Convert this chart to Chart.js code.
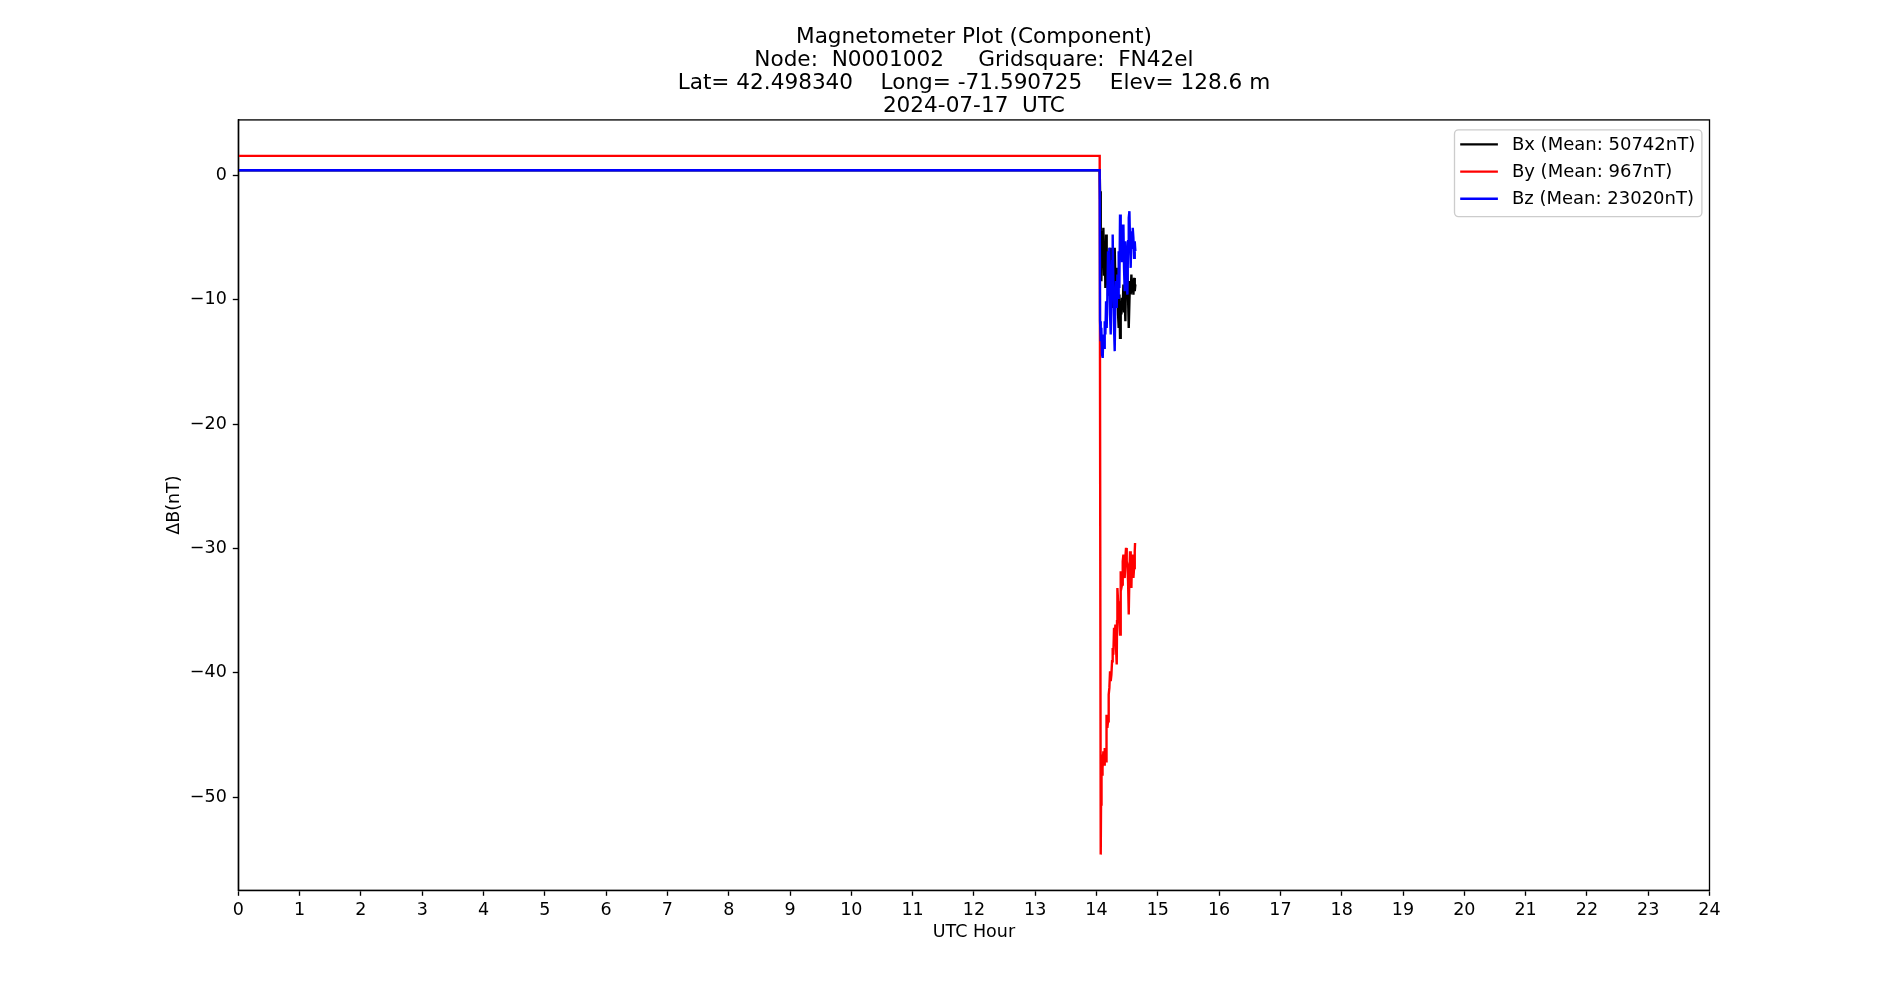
<!DOCTYPE html>
<html><head><meta charset="utf-8">
<script src="https://cdn.jsdelivr.net/npm/chart.js@4.4.1/dist/chart.umd.min.js"></script>
<style>html,body{margin:0;padding:0;background:#fff;overflow:hidden}</style>
</head><body>
<canvas id="c" width="1900" height="1000" style="width:1900px;height:1000px;display:block"></canvas>
<script>
const titleLines = [
  'Magnetometer Plot (Component)',
  'Node:  N0001002     Gridsquare:  FN42el',
  'Lat= 42.498340    Long= -71.590725    Elev= 128.6 m',
  '2024-07-17  UTC'
];
const seriesLabels = ['Bx (Mean: 50742nT)', 'By (Mean: 967nT)', 'Bz (Mean: 23020nT)'];
const seriesColors = ['#000000', '#ff0000', '#0000ff'];
const xTitle = 'UTC Hour';
const yTitle = '\u0394B(nT)';
const xTicks = [0,1,2,3,4,5,6,7,8,9,10,11,12,13,14,15,16,17,18,19,20,21,22,23,24];
const yTicks = [-50,-40,-30,-20,-10,0];

const bzHours = [0, 14.052, 14.058, 14.069, 14.079, 14.090, 14.101, 14.112, 14.123, 14.134, 14.145, 14.156, 14.166, 14.177, 14.188, 14.199, 14.210, 14.221, 14.232, 14.243, 14.254, 14.264, 14.275, 14.286, 14.297, 14.308, 14.319, 14.330, 14.341, 14.352, 14.362, 14.373, 14.384, 14.395, 14.406, 14.417, 14.428, 14.439, 14.449, 14.460, 14.471, 14.482, 14.493, 14.504, 14.515, 14.526, 14.537, 14.547, 14.558, 14.569, 14.580, 14.591, 14.602, 14.613, 14.624, 14.634];
const bxHours = bzHours;
const bxValues = [0.42, 0.42, -1.26, -5.29, -8.50, -4.48, -6.09, -4.21, -7.97, -5.29, -9.04, -4.75, -8.77, -6.09, -9.58, -6.36, -8.50, -5.82, -9.84, -6.89, -9.04, -10.65, -6.36, -10.11, -5.82, -8.77, -7.43, -9.84, -8.50, -11.18, -12.26, -9.58, -13.06, -10.11, -11.18, -9.84, -10.65, -8.77, -10.92, -9.58, -11.72, -7.97, -6.09, -7.97, -9.84, -12.26, -10.11, -8.50, -9.58, -7.97, -9.31, -8.50, -9.58, -8.24, -9.31, -8.77];
const bzValues = [0.42, 0.42, -11.72, -13.33, -12.26, -14.40, -14.67, -12.79, -13.87, -11.72, -12.79, -10.11, -12.26, -9.84, -6.09, -8.50, -5.82, -11.18, -12.79, -9.04, -6.89, -4.75, -8.50, -12.26, -14.13, -10.11, -8.50, -10.65, -7.97, -9.84, -6.09, -9.04, -3.14, -5.29, -3.95, -6.89, -4.75, -3.95, -7.43, -9.31, -5.29, -6.36, -8.50, -9.58, -5.29, -3.41, -2.87, -5.29, -7.43, -4.48, -5.82, -4.21, -5.02, -6.63, -5.29, -6.09];
const byHours = [0, 14.052, 14.069, 14.074, 14.079, 14.085, 14.090, 14.096, 14.101, 14.112, 14.123, 14.134, 14.145, 14.156, 14.161, 14.166, 14.177, 14.188, 14.199, 14.210, 14.221, 14.232, 14.243, 14.254, 14.264, 14.275, 14.286, 14.297, 14.308, 14.319, 14.330, 14.335, 14.341, 14.352, 14.362, 14.373, 14.384, 14.395, 14.406, 14.417, 14.428, 14.439, 14.449, 14.460, 14.471, 14.482, 14.493, 14.504, 14.515, 14.526, 14.537, 14.547, 14.558, 14.569, 14.580, 14.591, 14.602, 14.613, 14.624, 14.629];
const byValues = [1.58, 1.58, -54.63, -50.61, -48.19, -47.12, -48.19, -46.58, -47.66, -46.32, -47.39, -46.05, -46.85, -47.12, -44.97, -43.37, -44.44, -43.90, -41.76, -41.22, -39.88, -40.68, -40.15, -39.08, -38.00, -38.54, -36.39, -37.47, -36.13, -38.00, -39.34, -35.86, -33.18, -34.25, -34.78, -35.86, -36.93, -31.84, -33.18, -32.91, -31.03, -30.49, -32.10, -32.37, -30.76, -29.96, -31.03, -31.30, -32.64, -35.32, -32.10, -30.23, -31.84, -33.18, -30.49, -31.03, -32.37, -31.57, -30.23, -29.56];

const FONT = 'DejaVu Sans';
function pts(xs, ys) {
  const n = Math.min(xs.length, ys.length);
  const out = [];
  for (let i = 0; i < n; i++) out.push({x: xs[i], y: ys[i]});
  return out;
}
const frame = {
  id: 'frame',
  afterDatasetsDraw(chart) {
    const {ctx, chartArea: a} = chart;
    ctx.save();
    ctx.strokeStyle = '#000';
    ctx.lineWidth = 1.33;
    ctx.strokeRect(a.left, a.top, a.right - a.left, a.bottom - a.top);
    ctx.restore();
  }
};
const boxLegend = {
  id: 'boxLegend',
  afterDraw(chart) {
    const {ctx, chartArea: a} = chart;
    const w = 247.4, h = 86.7, r = 4;
    const x0 = a.right - 7.6 - w, y0 = a.top + 10;
    ctx.save();
    ctx.beginPath();
    ctx.moveTo(x0 + r, y0);
    ctx.arcTo(x0 + w, y0, x0 + w, y0 + h, r);
    ctx.arcTo(x0 + w, y0 + h, x0, y0 + h, r);
    ctx.arcTo(x0, y0 + h, x0, y0, r);
    ctx.arcTo(x0, y0, x0 + w, y0, r);
    ctx.closePath();
    ctx.fillStyle = 'rgba(255,255,255,0.8)';
    ctx.fill();
    ctx.strokeStyle = '#cccccc';
    ctx.lineWidth = 1.33;
    ctx.stroke();
    chart.data.datasets.forEach((ds, i) => {
      const cy = y0 + 14.5 + i * 27.2;
      ctx.beginPath();
      ctx.strokeStyle = ds.borderColor;
      ctx.lineWidth = ds.borderWidth;
      ctx.moveTo(x0 + 5.7, cy);
      ctx.lineTo(x0 + 43.4, cy);
      ctx.stroke();
      ctx.fillStyle = '#000';
      ctx.font = '18px "' + FONT + '"';
      ctx.textBaseline = 'middle';
      ctx.textAlign = 'left';
      ctx.fillText(ds.label, x0 + 57.4, cy + 0.5);
    });
    ctx.restore();
  }
};
const allX = [bxHours, byHours, bzHours];
const allY = [bxValues, byValues, bzValues];
const datasets = seriesLabels.map((lab, i) => ({
  label: lab,
  data: pts(allX[i], allY[i]),
  borderColor: seriesColors[i],
  backgroundColor: seriesColors[i],
  borderWidth: 2.4,
  pointRadius: 0,
  tension: 0,
  fill: false,
  order: 3 - i
}));
const tickFont = {family: FONT, size: 17.5};
new Chart(document.getElementById('c'), {
  type: 'line',
  data: {datasets},
  options: {
    responsive: false,
    animation: false,
    devicePixelRatio: 1,
    events: [],
    layout: {padding: {left: 0, right: 190.5, top: 0, bottom: 0}},
    plugins: {
      legend: {display: false},
      tooltip: {enabled: false},
      title: {
        display: true, text: titleLines, fullSize: false, color: '#000',
        font: {family: FONT, size: 21.6, weight: 'normal', lineHeight: 1.065},
        padding: {top: 26, bottom: 1.9}
      }
    },
    scales: {
      x: {
        type: 'linear', min: 0, max: 24,
        afterBuildTicks: s => { s.ticks = xTicks.map(v => ({value: v})); },
        afterFit: s => { s.height = 109.7; s.paddingLeft = 0; s.paddingRight = 0; },
        grid: {drawOnChartArea: false, drawTicks: true, tickLength: 5.5, tickColor: '#000', tickWidth: 1.33},
        border: {display: true, color: '#000', width: 1.33},
        ticks: {color: '#000', font: tickFont, padding: 4.4, maxRotation: 0, autoSkip: false},
        title: {display: true, text: xTitle, color: '#000', font: {family: FONT, size: 17.5}, padding: {top: 0, bottom: 56.6}}
      },
      y: {
        type: 'linear', min: -57.5, max: 4.47,
        afterBuildTicks: s => { s.ticks = yTicks.map(v => ({value: v})); },
        afterFit: s => { s.width = 238.3; s.paddingTop = 0; s.paddingBottom = 0; },
        grid: {drawOnChartArea: false, drawTicks: true, tickLength: 5.5, tickColor: '#000', tickWidth: 1.33},
        border: {display: true, color: '#000', width: 1.33},
        ticks: {color: '#000', font: tickFont, padding: 6, callback: v => (v < 0 ? '\u2212' + Math.abs(v) : String(v))},
        title: {display: true, text: yTitle, color: '#000', font: {family: FONT, size: 17.5}, padding: {top: 163.5, bottom: 0}}
      }
    }
  },
  plugins: [frame, boxLegend]
});
</script>
</body></html>
